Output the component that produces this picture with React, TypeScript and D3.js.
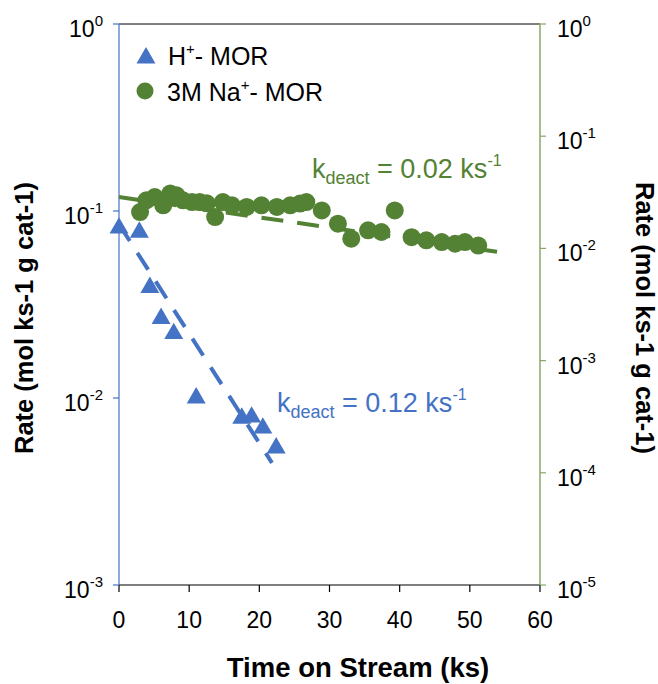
import React from "react";
import * as d3 from "d3";

const hTime = [0, 2.9, 4.4, 6.0, 7.8, 11.0, 17.5, 18.9, 20.5, 22.4];
const hRate = [0.081, 0.077, 0.039, 0.0266, 0.0221, 0.01, 0.0078, 0.0079, 0.0069, 0.0054];

const naTime = [3.0, 3.9, 5.1, 6.3, 7.3, 8.2, 9.1, 10.4, 11.5, 12.5, 13.7, 14.8, 16.1, 18.2, 20.3, 22.5, 24.4, 25.8, 26.7, 28.9, 31.2, 33.1, 35.5, 37.4, 39.3, 41.7, 43.8, 46.0, 47.9, 49.3, 51.2];
const naRate = [0.0211, 0.0268, 0.0287, 0.0242, 0.0308, 0.0297, 0.0268, 0.0259, 0.0259, 0.0252, 0.019, 0.0259, 0.0242, 0.0234, 0.0242, 0.0234, 0.0242, 0.0251, 0.0259, 0.0218, 0.0166, 0.0122, 0.0145, 0.014, 0.0218, 0.0126, 0.0118, 0.0114, 0.011, 0.0114, 0.0106];

const hTrendT = [0, 21.8];
const hTrendR = [0.085, 0.0045];
const naTrendT = [0, 54];
const naTrendR = [0.0287, 0.0093];

const xTicks = [0, 10, 20, 30, 40, 50, 60];
const leftExps = [0, -1, -2, -3];
const rightExps = [0, -1, -2, -3, -4, -5];

const BLUE = "#4472C4";
const GREEN = "#548235";
const AXGREEN = "#86A866";
const FONT = "'Liberation Sans', Arial, sans-serif";

export default function App() {
  const W = 658, H = 684;
  const x = d3.scaleLinear().domain([0, 60]).range([119, 540]);
  const yL = d3.scaleLog().domain([1e-3, 1]).range([585, 24]);
  const yR = d3.scaleLog().domain([1e-5, 1]).range([585, 24]);

  const lineL = d3.line<number>().x((_, i) => x(hTrendT[i])).y((_, i) => yL(hTrendR[i]));
  const lineR = d3.line<number>().x((_, i) => x(naTrendT[i])).y((_, i) => yR(naTrendR[i]));
  const tri = d3.symbol().type(d3.symbolTriangle).size(155)() as string;

  return (
    <svg width={W} height={H} style={{ position: "absolute", left: 0, top: 0 }} fontFamily={FONT}>
      <rect width={W} height={H} fill="#fff" />
      {/* frame */}
      <line x1={119} x2={540} y1={24} y2={24} stroke="#000" strokeWidth={1} />
      <line x1={119} x2={540} y1={585} y2={585} stroke="#000" strokeWidth={1.2} />
      <line x1={119} x2={119} y1={24} y2={585} stroke={BLUE} strokeWidth={1.2} />
      <line x1={540} x2={540} y1={24} y2={585} stroke={AXGREEN} strokeWidth={1.5} />
      {xTicks.map((t) => (
        <g key={t}>
          <line x1={x(t)} x2={x(t)} y1={585} y2={592} stroke="#000" strokeWidth={1.2} />
          <text x={x(t)} y={628} fontSize={23} textAnchor="middle" fill="#000">{t}</text>
        </g>
      ))}
      {leftExps.map((e) => (
        <g key={e}>
          <line x1={113} x2={119} y1={yL(Math.pow(10, e))} y2={yL(Math.pow(10, e))} stroke={BLUE} strokeWidth={1.2} />
          <text x={103} y={yL(Math.pow(10, e)) + 13} fontSize={23} textAnchor="end" fill="#000">
            10<tspan fontSize={15} dy={-11}>{e}</tspan>
          </text>
        </g>
      ))}
      {rightExps.map((e) => (
        <g key={e}>
          <line x1={540} x2={546} y1={yR(Math.pow(10, e))} y2={yR(Math.pow(10, e))} stroke={AXGREEN} strokeWidth={1.2} />
          <text x={557} y={yR(Math.pow(10, e)) + 13} fontSize={23} textAnchor="start" fill="#000">
            10<tspan fontSize={15} dy={-11}>{e}</tspan>
          </text>
        </g>
      ))}
      {/* trend lines */}
      <path d={lineR(naTrendT) || ""} stroke={GREEN} strokeWidth={4} strokeDasharray="22 14" fill="none" />
      <path d={lineL(hTrendT) || ""} stroke={BLUE} strokeWidth={4} strokeDasharray="20 14" fill="none" />
      {/* points */}
      {naTime.map((t, i) => (
        <circle key={i} cx={x(t)} cy={yR(naRate[i])} r={9} fill={GREEN} />
      ))}
      {hTime.map((t, i) => (
        <path key={i} d={tri} transform={`translate(${x(t)},${yL(hRate[i])})`} fill={BLUE} />
      ))}
      {/* legend */}
      <path d={tri} transform="translate(146,58)" fill={BLUE} />
      <text x={168} y={65} fontSize={25} fill="#000">H<tspan fontSize={15} dy={-11}>+</tspan><tspan dy={11}>- MOR</tspan></text>
      <circle cx={145} cy={91} r={8.5} fill={GREEN} />
      <text x={167} y={101} fontSize={25} fill="#000">3M Na<tspan fontSize={15} dy={-11}>+</tspan><tspan dy={11}>- MOR</tspan></text>
      {/* annotations */}
      <text x={312} y={178} fontSize={27} fill={GREEN}>
        k<tspan fontSize={18} dy={6}>deact</tspan><tspan dy={-6}> = 0.02 ks</tspan><tspan fontSize={16} dy={-12}>-1</tspan>
      </text>
      <text x={277} y={412} fontSize={27} fill={BLUE}>
        k<tspan fontSize={18} dy={6}>deact</tspan><tspan dy={-6}> = 0.12 ks</tspan><tspan fontSize={16} dy={-12}>-1</tspan>
      </text>
      {/* axis titles */}
      <text x={358} y={677} fontSize={27.5} fontWeight="bold" textAnchor="middle" fill="#000">Time on Stream (ks)</text>
      <text transform="translate(33,318) rotate(-90)" fontSize={25.5} fontWeight="bold" textAnchor="middle" fill="#000">Rate (mol ks-1 g cat-1)</text>
      <text transform="translate(636,318) rotate(90)" fontSize={25.5} fontWeight="bold" textAnchor="middle" fill="#000">Rate (mol ks-1 g cat-1)</text>
    </svg>
  );
}
